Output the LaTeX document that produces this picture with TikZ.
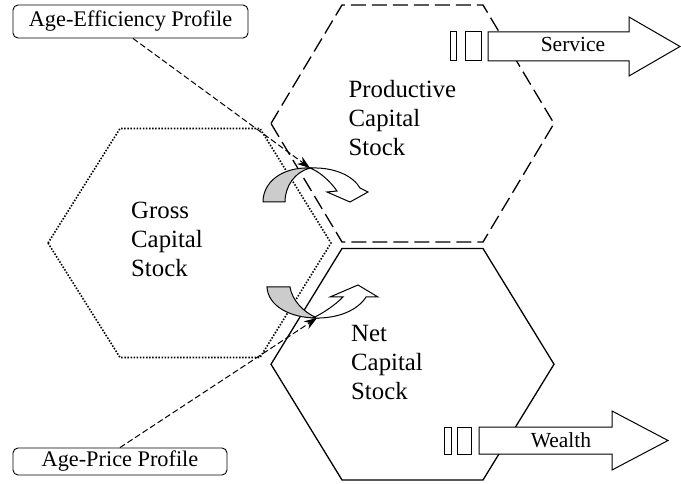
\documentclass[tikz,border=0pt]{standalone}
\usepackage{fontspec}
\setmainfont{Liberation Serif}
\usetikzlibrary{arrows.meta}
\begin{document}
\begin{tikzpicture}[x=1pt,y=-1pt,
  hexline/.style={line width=1.3pt, line join=miter},
  lbl/.style={draw, rounded corners=5pt, line width=0.9pt, inner sep=0pt, font=\fontsize{22.3}{26}\selectfont},
  stocktext/.style={anchor=base west, inner sep=0pt, font=\fontsize{24.8}{29}\selectfont},
  fatarrow/.style={draw, fill=white, line width=1pt, line join=miter},
  arrowtext/.style={anchor=base, inner sep=0pt, font=\fontsize{21.5}{26}\selectfont},
  backpart/.style={draw, fill=gray!40, line width=1pt},
  frontpart/.style={draw, fill=white, line width=1pt, line join=miter},
  pointer/.style={line width=1pt, dash pattern=on 6pt off 3pt, -{Stealth[length=13pt,width=9pt]}}
]
\useasboundingbox (0,0) rectangle (681,484);

% hexagons
\draw[hexline, dash pattern=on 15pt off 6pt] (271,123.5) -- (342,5) -- (483,5) -- (554,123.5) -- (483,242) -- (342,242) -- cycle;
\draw[hexline, line width=1.6pt, dash pattern=on 1.5pt off 1.6pt] (48,243) -- (120,128.5) -- (260,128.5) -- (331,243) -- (260,357.5) -- (120,357.5) -- cycle;
\draw[hexline] (271,364.25) -- (342,248.5) -- (483,248.5) -- (554,364.25) -- (483,480) -- (342,480) -- cycle;

% stock labels
\node[stocktext] (prod) at (348.5,98) {\begin{tabular}[t]{@{}l@{}}Productive\\Capital\\Stock\end{tabular}};
\node[stocktext] (gross) at (131,218.5) {\begin{tabular}[t]{@{}l@{}}Gross\\Capital\\Stock\end{tabular}};
\node[stocktext] (net) at (351,341.5) {\begin{tabular}[t]{@{}l@{}}Net\\Capital\\Stock\end{tabular}};

% curved arrow: gross -> productive
\draw[backpart] (263,202) -- (285,202) .. controls (285,186) and (295,172) .. (310,168) .. controls (282,167) and (263,182) .. (263,202) -- cycle;
\draw[frontpart] (310,168) .. controls (335,167) and (353,176) .. (360,188) -- (368,192) -- (350,202) -- (327,192) -- (337,191) .. controls (330,181) and (320,172) .. (310,168) -- cycle;

% curved arrow: gross -> net
\draw[backpart] (267,287) -- (290,287) .. controls (292,300) and (303,312) .. (317,318) .. controls (290,318) and (268,306) .. (267,287) -- cycle;
\draw[frontpart] (313,318) .. controls (338,319) and (358,310) .. (366,297) -- (378,297) -- (358,285) -- (330,297) -- (343,297) .. controls (335,305) and (325,312) .. (313,318) -- cycle;

% service arrow
\draw[fatarrow] (450.7,32) rectangle (456.7,61);
\draw[fatarrow] (465.7,32) rectangle (481,61);
\draw[fatarrow] (488,32) -- (629,32) -- (629,17) -- (680,46.5) -- (629,76) -- (629,61) -- (488,61) -- cycle;
\node[arrowtext] (service) at (573,52) {Service};

% wealth arrow
\draw[fatarrow] (444,427) rectangle (451.5,454);
\draw[fatarrow] (457,427) rectangle (471.5,454);
\draw[fatarrow] (479,427) -- (612,427) -- (612,411) -- (668,440.5) -- (612,470) -- (612,454) -- (479,454) -- cycle;
\node[arrowtext] (wealth) at (561,447) {Wealth};

% profile boxes
\node[lbl, minimum width=235pt, minimum height=33pt] (aeff) at (130.5,21.5) {Age-Efficiency Profile};
\node[lbl, minimum width=214pt, minimum height=27pt] (apr) at (120,461.5) {Age-Price Profile};

\coordinate (efftip) at (310,168);
\coordinate (pricetip) at (317,318);
\draw[pointer] ([xshift=2.5pt]aeff.south) -- (efftip);
\draw[pointer] (apr.north) -- (pricetip);
\end{tikzpicture}
\end{document}
